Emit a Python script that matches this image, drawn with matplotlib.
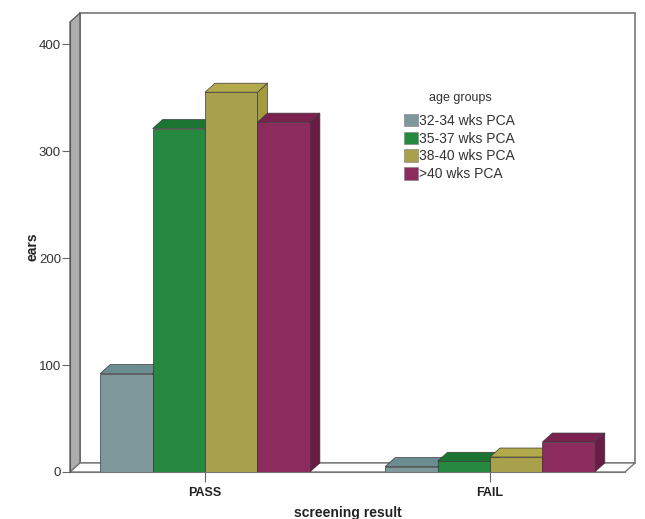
import numpy as np
import matplotlib
matplotlib.use("Agg")
import matplotlib.pyplot as plt
from matplotlib.patches import Polygon, Rectangle, Patch

plt.rcParams['font.family'] = ['Liberation Sans', 'DejaVu Sans']

# --- Data ---
categories = ['PASS', 'FAIL']
age_groups = ['32-34 wks PCA', '35-37 wks PCA', '38-40 wks PCA', '>40 wks PCA']
pass_counts = [92, 321, 355, 327]
fail_counts = [5, 10, 14, 28]
y_ticks = [0, 100, 200, 300, 400]

# front / top / side shades per group
front_colors = ['#7d979a', '#258a3f', '#a9a04b', '#8c2b5e']
top_colors = ['#6b8c90', '#1b7432', '#b3aa4c', '#7a2150']
side_colors = ['#627f82', '#1a6a2e', '#a59b3e', '#6b1c46']

# --- Layout ---
fig = plt.figure(figsize=(6.45, 5.19), dpi=100)
ax = fig.add_axes([70 / 645, 1 - 472 / 519, 555 / 645, 450 / 519])
x0, x1 = -0.474, 1.474
ymax = 420.6
ax.set_xlim(x0, x1)
ax.set_ylim(0, ymax)

# 3D depth offsets in data units (~10px right, ~9px up)
DX = 10 / 285
DY = 9 / 1.07
bar_w = 0.184
edge = '#3a3a3a'

# --- Walls and floor ---
ax.add_patch(Rectangle((x0 + DX, DY), x1 - x0, ymax, facecolor='white',
                       edgecolor='#8a8a8a', lw=1.4, clip_on=False, zorder=0))
ax.add_patch(Polygon([(x0, 0), (x0, ymax), (x0 + DX, ymax + DY), (x0 + DX, DY)],
                     closed=True, facecolor='#adadad', edgecolor='#555555',
                     lw=0.9, clip_on=False, zorder=1))
ax.add_patch(Polygon([(x0, 0), (x1, 0), (x1 + DX, DY), (x0 + DX, DY)],
                     closed=True, facecolor='white', edgecolor='#777777',
                     lw=1.0, clip_on=False, zorder=1))

# --- Bars (painted left to right) ---
z = 2
for ci, counts in enumerate([pass_counts, fail_counts]):
    lefts = ci + (np.arange(len(counts)) - 2) * bar_w
    for gi, (left, v) in enumerate(zip(lefts, counts)):
        right = left + bar_w
        ax.add_patch(Polygon([(right, 0), (right + DX, DY), (right + DX, v + DY), (right, v)],
                             closed=True, facecolor=side_colors[gi], edgecolor=edge,
                             lw=0.5, clip_on=False, zorder=z))
        ax.add_patch(Polygon([(left, v), (right, v), (right + DX, v + DY), (left + DX, v + DY)],
                             closed=True, facecolor=top_colors[gi], edgecolor=edge,
                             lw=0.5, clip_on=False, zorder=z))
        ax.bar(left, v, width=bar_w, align='edge', color=front_colors[gi],
               edgecolor=edge, lw=0.5, zorder=z + 0.5)
        z += 1

# --- Axes styling ---
for s in ['top', 'right']:
    ax.spines[s].set_visible(False)
ax.spines['left'].set_color('#555555')
ax.spines['bottom'].set_color('#777777')
ax.spines['left'].set_zorder(30)
ax.patch.set_visible(False)

ax.set_yticks(y_ticks)
ax.set_yticklabels([str(t) for t in y_ticks])
ax.set_xticks([0, 1])
ax.set_xticklabels(categories, fontweight='bold')
ax.tick_params(axis='y', direction='out', length=6, color='#666666',
               labelsize=9.5, labelcolor='#333333', pad=0.5)
ax.tick_params(axis='x', direction='out', length=7, color='#666666',
               labelsize=9, labelcolor='#222222', pad=4)

ax.set_ylabel('ears', fontsize=10, fontweight='bold', color='#222222')
ax.yaxis.set_label_coords(-0.068, 0.5)
ax.yaxis.label.set_va('center')
ax.set_xlabel('screening result', fontsize=10, fontweight='bold', color='#222222')
ax.xaxis.set_label_coords(0.5, -0.091)
ax.xaxis.label.set_va('center')

# --- Legend ---
handles = [Patch(facecolor=c, edgecolor='#888888', lw=0.5) for c in front_colors]
leg = ax.legend(handles, age_groups, frameon=False,
                fontsize=10, handlelength=1.0, handleheight=1.0,
                handletextpad=0.1, labelspacing=0.27, borderpad=0,
                loc='upper left', bbox_to_anchor=(397 / 645, 1 - 107 / 519),
                bbox_transform=fig.transFigure)
for t in leg.get_texts():
    t.set_color('#333333')
leg.set_zorder(50)
fig.text(460 / 645, 1 - 98 / 519, 'age groups', fontsize=9, color='#333333',
         ha='center', va='center')

fig.savefig('out.png', dpi=100, facecolor='white')
